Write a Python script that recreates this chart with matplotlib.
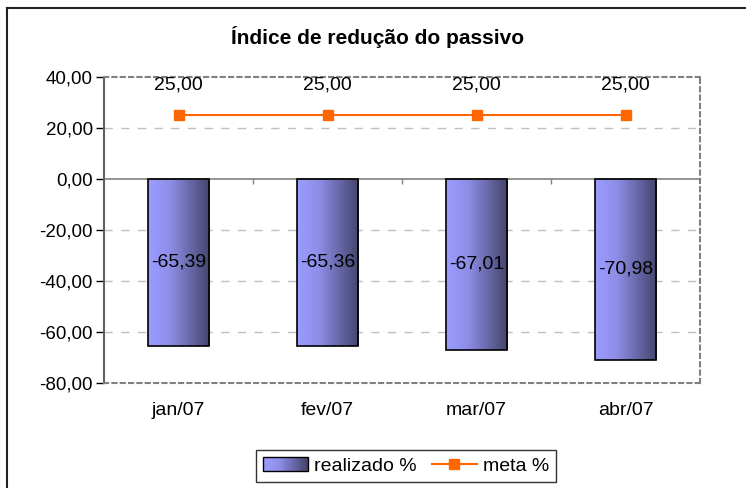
import matplotlib
matplotlib.use("Agg")
import matplotlib.pyplot as plt
import numpy as np
from matplotlib.colors import LinearSegmentedColormap
from matplotlib.patches import Rectangle
from matplotlib.legend_handler import HandlerBase
from matplotlib.lines import Line2D
from matplotlib.ticker import FuncFormatter, MultipleLocator

plt.rcParams['font.family'] = ['Liberation Sans', 'DejaVu Sans']

categories = ['jan/07', 'fev/07', 'mar/07', 'abr/07']
realizado = [-65.39, -65.36, -67.01, -70.98]
meta = [25.00, 25.00, 25.00, 25.00]
title = 'Índice de redução do passivo'

light = '#9c9cff'
dark = '#44446c'
cmap = LinearSegmentedColormap.from_list('g', [(0, light), (0.35, '#8e8ee8'), (1, dark)])

def fmt(v):
    return f"{v:.2f}".replace('.', ',')

fig = plt.figure(figsize=(7.46, 4.88), dpi=100)
ax = fig.add_axes([104/746, 1-383/488, (700-104)/746, (383-77)/488])

x = np.arange(len(categories))
bars = ax.bar(x, realizado, width=0.41, color='none', edgecolor='black', linewidth=1.2, zorder=3)
grad = np.linspace(0, 1, 256).reshape(1, -1)
for b in bars:
    x0, y0 = b.get_x(), b.get_y()
    w, h = b.get_width(), b.get_height()
    im = ax.imshow(grad, cmap=cmap, aspect='auto', extent=[x0, x0+w, y0+h, y0], zorder=2,
                   interpolation='bilinear')
    im.set_clip_path(b)

ax.plot(x, meta, color='#ff6600', linewidth=1.5, marker='s', markersize=7, zorder=4)

for xi, v in zip(x, realizado):
    ax.text(xi, v/2, fmt(v), ha='center', va='center', fontsize=14, zorder=5)
for xi, v in zip(x, meta):
    ax.annotate(fmt(v), (xi, v), xytext=(0, 22), textcoords='offset points',
                ha='center', va='center', fontsize=14, zorder=5)

ax.set_xlim(-0.5, len(categories)-0.5)
ax.set_ylim(-80, 40)
ax.yaxis.set_major_locator(MultipleLocator(20))
ax.yaxis.set_major_formatter(FuncFormatter(lambda v, p: fmt(v)))
ax.set_xticks(x)
ax.set_xticklabels(categories)
ax.tick_params(axis='x', length=0, pad=14, labelsize=14)
ax.tick_params(axis='y', length=6, width=1, color='black', pad=2, labelsize=13.5)

for yv in [20, -20, -40, -60]:
    ax.axhline(yv, color='#c0c0c0', linewidth=1, linestyle=(0, (6, 6)), zorder=1)
ax.axhline(0, color='#808080', linewidth=1.2, zorder=2.5)
ax.vlines([0.5, 1.5, 2.5], -1.8, 0, color='#808080', linewidth=1, zorder=2.5)

for s in ['top', 'right', 'bottom']:
    ax.spines[s].set_color('#808080')
    ax.spines[s].set_linestyle((0, (2, 2)))
    ax.spines[s].set_linewidth(1.5)
ax.spines['left'].set_color('#606060')
ax.spines['left'].set_linestyle((0, (2, 1)))
ax.spines['left'].set_linewidth(1.5)

fig.text(378/746, 1-37/488, title, ha='center', va='center', fontsize=15, fontweight='bold')

class GradHandler(HandlerBase):
    def create_artists(self, legend, orig_handle, xdescent, ydescent, width, height, fontsize, trans):
        arts = []
        n = 30
        for i in range(n):
            r = Rectangle((-xdescent + width*i/n, -ydescent), width/n + 0.3, height,
                          facecolor=cmap(i/(n-1)), edgecolor='none', transform=trans)
            arts.append(r)
        arts.append(Rectangle((-xdescent, -ydescent), width, height, facecolor='none',
                              edgecolor='black', linewidth=1, transform=trans))
        return arts

bar_handle = Rectangle((0, 0), 1, 1)
line_handle = Line2D([], [], color='#ff6600', linewidth=1.5, marker='s', markersize=7)
leg = fig.legend([bar_handle, line_handle], ['realizado %', 'meta %'],
                 handler_map={Rectangle: GradHandler()},
                 loc='center', bbox_to_anchor=(406/746, 1-466/488), ncol=2,
                 fontsize=14, frameon=True, fancybox=False, edgecolor='black',
                 handlelength=2.3, handletextpad=0.3, columnspacing=0.8, borderpad=0.35,
                 borderaxespad=0)
leg.get_frame().set_linewidth(1)

fig.add_artist(Line2D([7/746, 1], [1-8/488, 1-8/488], color='#222222', linewidth=1.5))
fig.add_artist(Line2D([7/746, 7/746], [0, 1-8/488], color='#222222', linewidth=1.5))

fig.savefig('out.png', dpi=100)
